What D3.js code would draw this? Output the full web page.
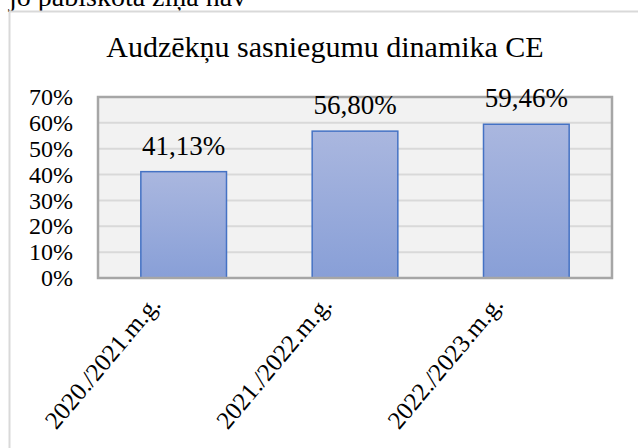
<!DOCTYPE html>
<html>
<head>
<meta charset="utf-8">
<script src="https://cdn.jsdelivr.net/npm/d3@7"></script>
<style>
  body { margin: 0; background: #fff; }
</style>
</head>
<body>
<div id="chart"></div>
<script>
var width = 638,
    height = 448;

var years = ['2020./2021.m.g.', '2021./2022.m.g.', '2022./2023.m.g.'];
var values = [0.4113, 0.5680, 0.5946];
var valueLabels = ['41,13%', '56,80%', '59,46%'];
var yTicks = [0, 0.1, 0.2, 0.3, 0.4, 0.5, 0.6, 0.7];

var plot = { left: 98, right: 612, top: 97, bottom: 278 };
var serif = '"Liberation Serif"';

var svg = d3.select('#chart').append('svg')
    .attr('width', width)
    .attr('height', height);

// text of the page above the chart, cut off
svg.append('text')
    .attr('x', 9)
    .attr('y', 6)
    .style('font-family', serif)
    .attr('font-size', '28px')
    .text('jo pabiskota ziņa nav');

// chart frame
svg.append('rect')
    .attr('x', 9.5)
    .attr('y', 11.5)
    .attr('width', 700)
    .attr('height', 500)
    .attr('fill', '#fff')
    .attr('stroke', '#d9d9d9')
    .attr('stroke-width', 2);

svg.append('text')
    .attr('x', 325)
    .attr('y', 57)
    .attr('text-anchor', 'middle')
    .style('font-family', serif)
    .attr('font-size', '30px')
    .text('Audzēkņu sasniegumu dinamika CE');

var x = d3.scaleBand()
    .domain(years)
    .range([plot.left, plot.right])
    .paddingInner(0.5)
    .paddingOuter(0.25);

var y = d3.scaleLinear()
    .domain([0, 0.7])
    .range([plot.bottom, plot.top]);

var defs = svg.append('defs');
var grad = defs.append('linearGradient')
    .attr('id', 'barfill')
    .attr('x1', 0).attr('y1', 0)
    .attr('x2', 0).attr('y2', 1);
grad.append('stop').attr('offset', '0%').attr('stop-color', '#aab7df');
grad.append('stop').attr('offset', '100%').attr('stop-color', '#889fd7');

svg.append('rect')
    .attr('x', plot.left)
    .attr('y', plot.top)
    .attr('width', plot.right - plot.left)
    .attr('height', plot.bottom - plot.top)
    .attr('fill', '#f2f2f2');

svg.append('g')
    .selectAll('line')
    .data(yTicks.slice(1, -1))
    .enter().append('line')
    .attr('x1', plot.left)
    .attr('x2', plot.right)
    .attr('y1', function(d) { return y(d); })
    .attr('y2', function(d) { return y(d); })
    .attr('stroke', '#d9d9d9')
    .attr('stroke-width', 2);

svg.append('g')
    .selectAll('rect')
    .data(values)
    .enter().append('rect')
    .attr('x', function(d, i) { return x(years[i]); })
    .attr('y', function(d) { return y(d); })
    .attr('width', x.bandwidth())
    .attr('height', function(d) { return y(0) - y(d); })
    .attr('fill', 'url(#barfill)')
    .attr('stroke', '#4472c4')
    .attr('stroke-width', 1.5);

// plot border
svg.append('rect')
    .attr('x', plot.left)
    .attr('y', plot.top)
    .attr('width', plot.right - plot.left)
    .attr('height', plot.bottom - plot.top)
    .attr('fill', 'none')
    .attr('stroke', '#a6a6a6')
    .attr('stroke-width', 2.5);

svg.append('g')
    .selectAll('text')
    .data(values)
    .enter().append('text')
    .attr('x', function(d, i) { return x(years[i]) + x.bandwidth() / 2; })
    .attr('y', function(d) { return y(d) - 17; })
    .attr('text-anchor', 'middle')
    .style('font-family', serif)
    .attr('font-size', '27px')
    .text(function(d, i) { return valueLabels[i]; });

var yAxis = d3.axisLeft(y)
    .tickValues(yTicks)
    .tickSize(0)
    .tickPadding(0)
    .tickFormat(d3.format('.0%'));

svg.append('g')
    .attr('transform', 'translate(73,0)')
    .call(yAxis)
    .call(function(g) { g.select('.domain').remove(); })
    .selectAll('text')
    .style('font-family', serif)
    .attr('font-size', '24px')
    .attr('fill', '#000')
    .attr('dy', '0.32em');

var xAxis = d3.axisBottom(x)
    .tickSize(0)
    .tickPadding(0);

svg.append('g')
    .attr('transform', 'translate(0,' + plot.bottom + ')')
    .call(xAxis)
    .call(function(g) { g.select('.domain').remove(); })
    .selectAll('text')
    .style('font-family', serif)
    .attr('font-size', '25px')
    .attr('fill', '#000')
    .attr('text-anchor', 'end')
    .attr('dy', 0)
    .attr('transform', 'translate(-22,27) rotate(-50)');
</script>
</body>
</html>
